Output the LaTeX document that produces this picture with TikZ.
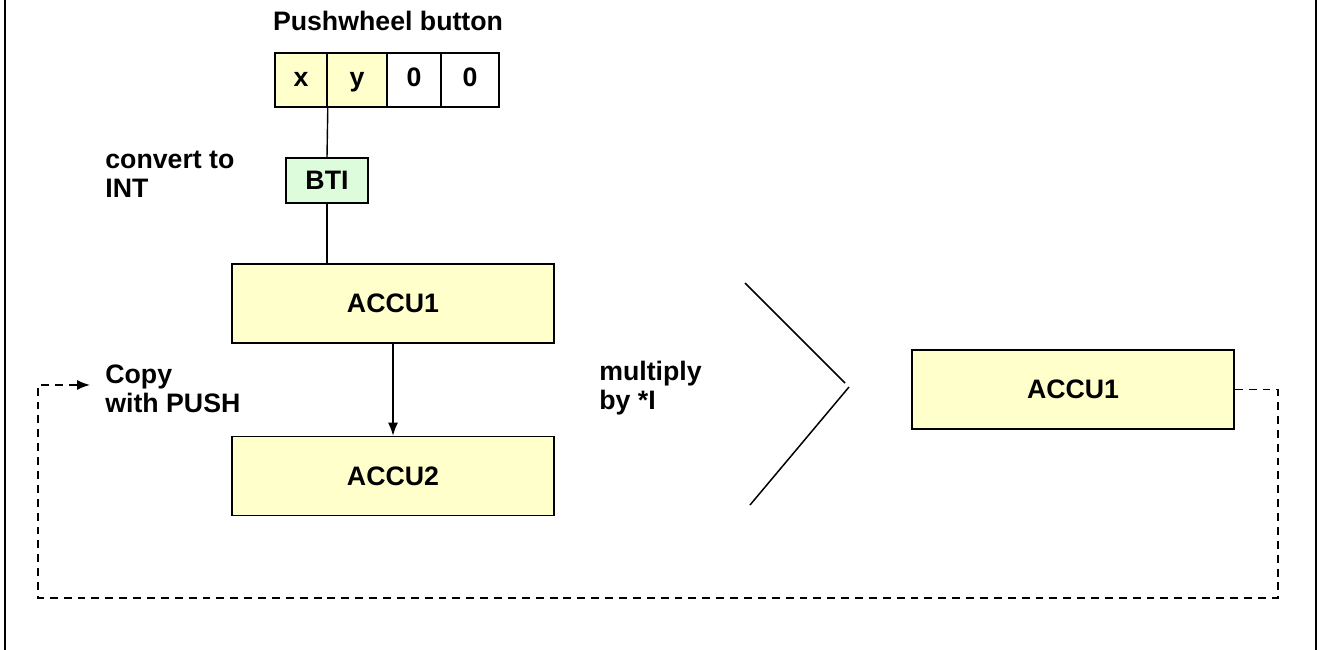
\documentclass[tikz,border=0pt]{standalone}
\usepackage{fontspec}
\setmainfont{Liberation Sans}
\usetikzlibrary{arrows.meta}
\definecolor{accuyellow}{HTML}{FFFFCC}
\definecolor{btigreen}{HTML}{DCFCDC}

\begin{document}
\begin{tikzpicture}[
		every node/.style={font=\bfseries\fontsize{15.2}{16.5}\selectfont},
		box/.style={rectangle, draw, line width=0.9pt, inner sep=0pt},
		cell/.style={box, minimum height=1.08cm, text height=0.72em, text depth=0pt},
		accu/.style={box, fill=accuyellow, minimum width=6.44cm, minimum height=1.58cm},
		txt/.style={align=left, anchor=west, inner sep=0pt},
		pushline/.style={line width=0.85pt, dash pattern=on 4.5pt off 3.4pt}
	]
  \useasboundingbox (0cm, 0cm) rectangle (26.42cm, 13cm);
  \draw [line width=1.2pt] (0.1cm, 0cm) -- (0.1cm, 13cm);
  \draw [line width=1.2pt] (26.32cm, 0cm) -- (26.32cm, 13cm);
  % pushwheel register
  \node (title) [inner sep=0pt] at (7.76cm, 12.58cm) {Pushwheel button};
  \node (x) [cell, fill=accuyellow, minimum width=1.04cm] at (6.02cm, 11.4cm) {x};
  \node (y) [cell, fill=accuyellow, minimum width=1.2cm] at (7.14cm, 11.4cm) {y};
  \node (z1) [cell, minimum width=1.08cm] at (8.28cm, 11.4cm) {0};
  \node (z2) [cell, minimum width=1.16cm] at (9.4cm, 11.4cm) {0};
  \node (bti) [box, fill=btigreen, minimum width=1.64cm, minimum height=0.9cm] at (6.54cm, 9.39cm) {BTI};
  \node (convert) [txt] at (2.1cm, 9.51cm) {convert to\\INT};
  % accumulators
  \node (accu1) [accu] at (7.86cm, 6.93cm) {ACCU1};
  \node (accu2) [accu] at (7.86cm, 3.48cm) {ACCU2};
  \node (accur) [accu] at (21.46cm, 5.21cm) {ACCU1};
  \node (copy) [txt] at (2.1cm, 5.22cm) {Copy\\with PUSH};
  \node (mult) [txt] at (11.98cm, 5.24cm) {multiply\\by *I};
  \coordinate (pushin) at (1.8cm, 5.3cm);
  \draw [line width=0.8pt] (x.south east) -- (bti.north);
  \draw [line width=0.8pt] (bti.south) -- (bti.south |- accu1.north);
  \draw [line width=0.8pt, -{Latex[length=2.6mm, width=2mm]}] (accu1) -- (accu2);
  \draw [pushline, -{Latex[length=2.6mm, width=2mm]}] (accur.east) -- ++(0.86cm, 0cm) |- (0.76cm, 1.04cm) |- (pushin);
  % chevron
  \draw [line width=0.85pt] (14.9cm, 7.34cm) -- (16.9cm, 5.34cm);
  \draw [line width=0.85pt] (16.98cm, 5.26cm) -- (15cm, 2.9cm);
\end{tikzpicture}
\end{document}
